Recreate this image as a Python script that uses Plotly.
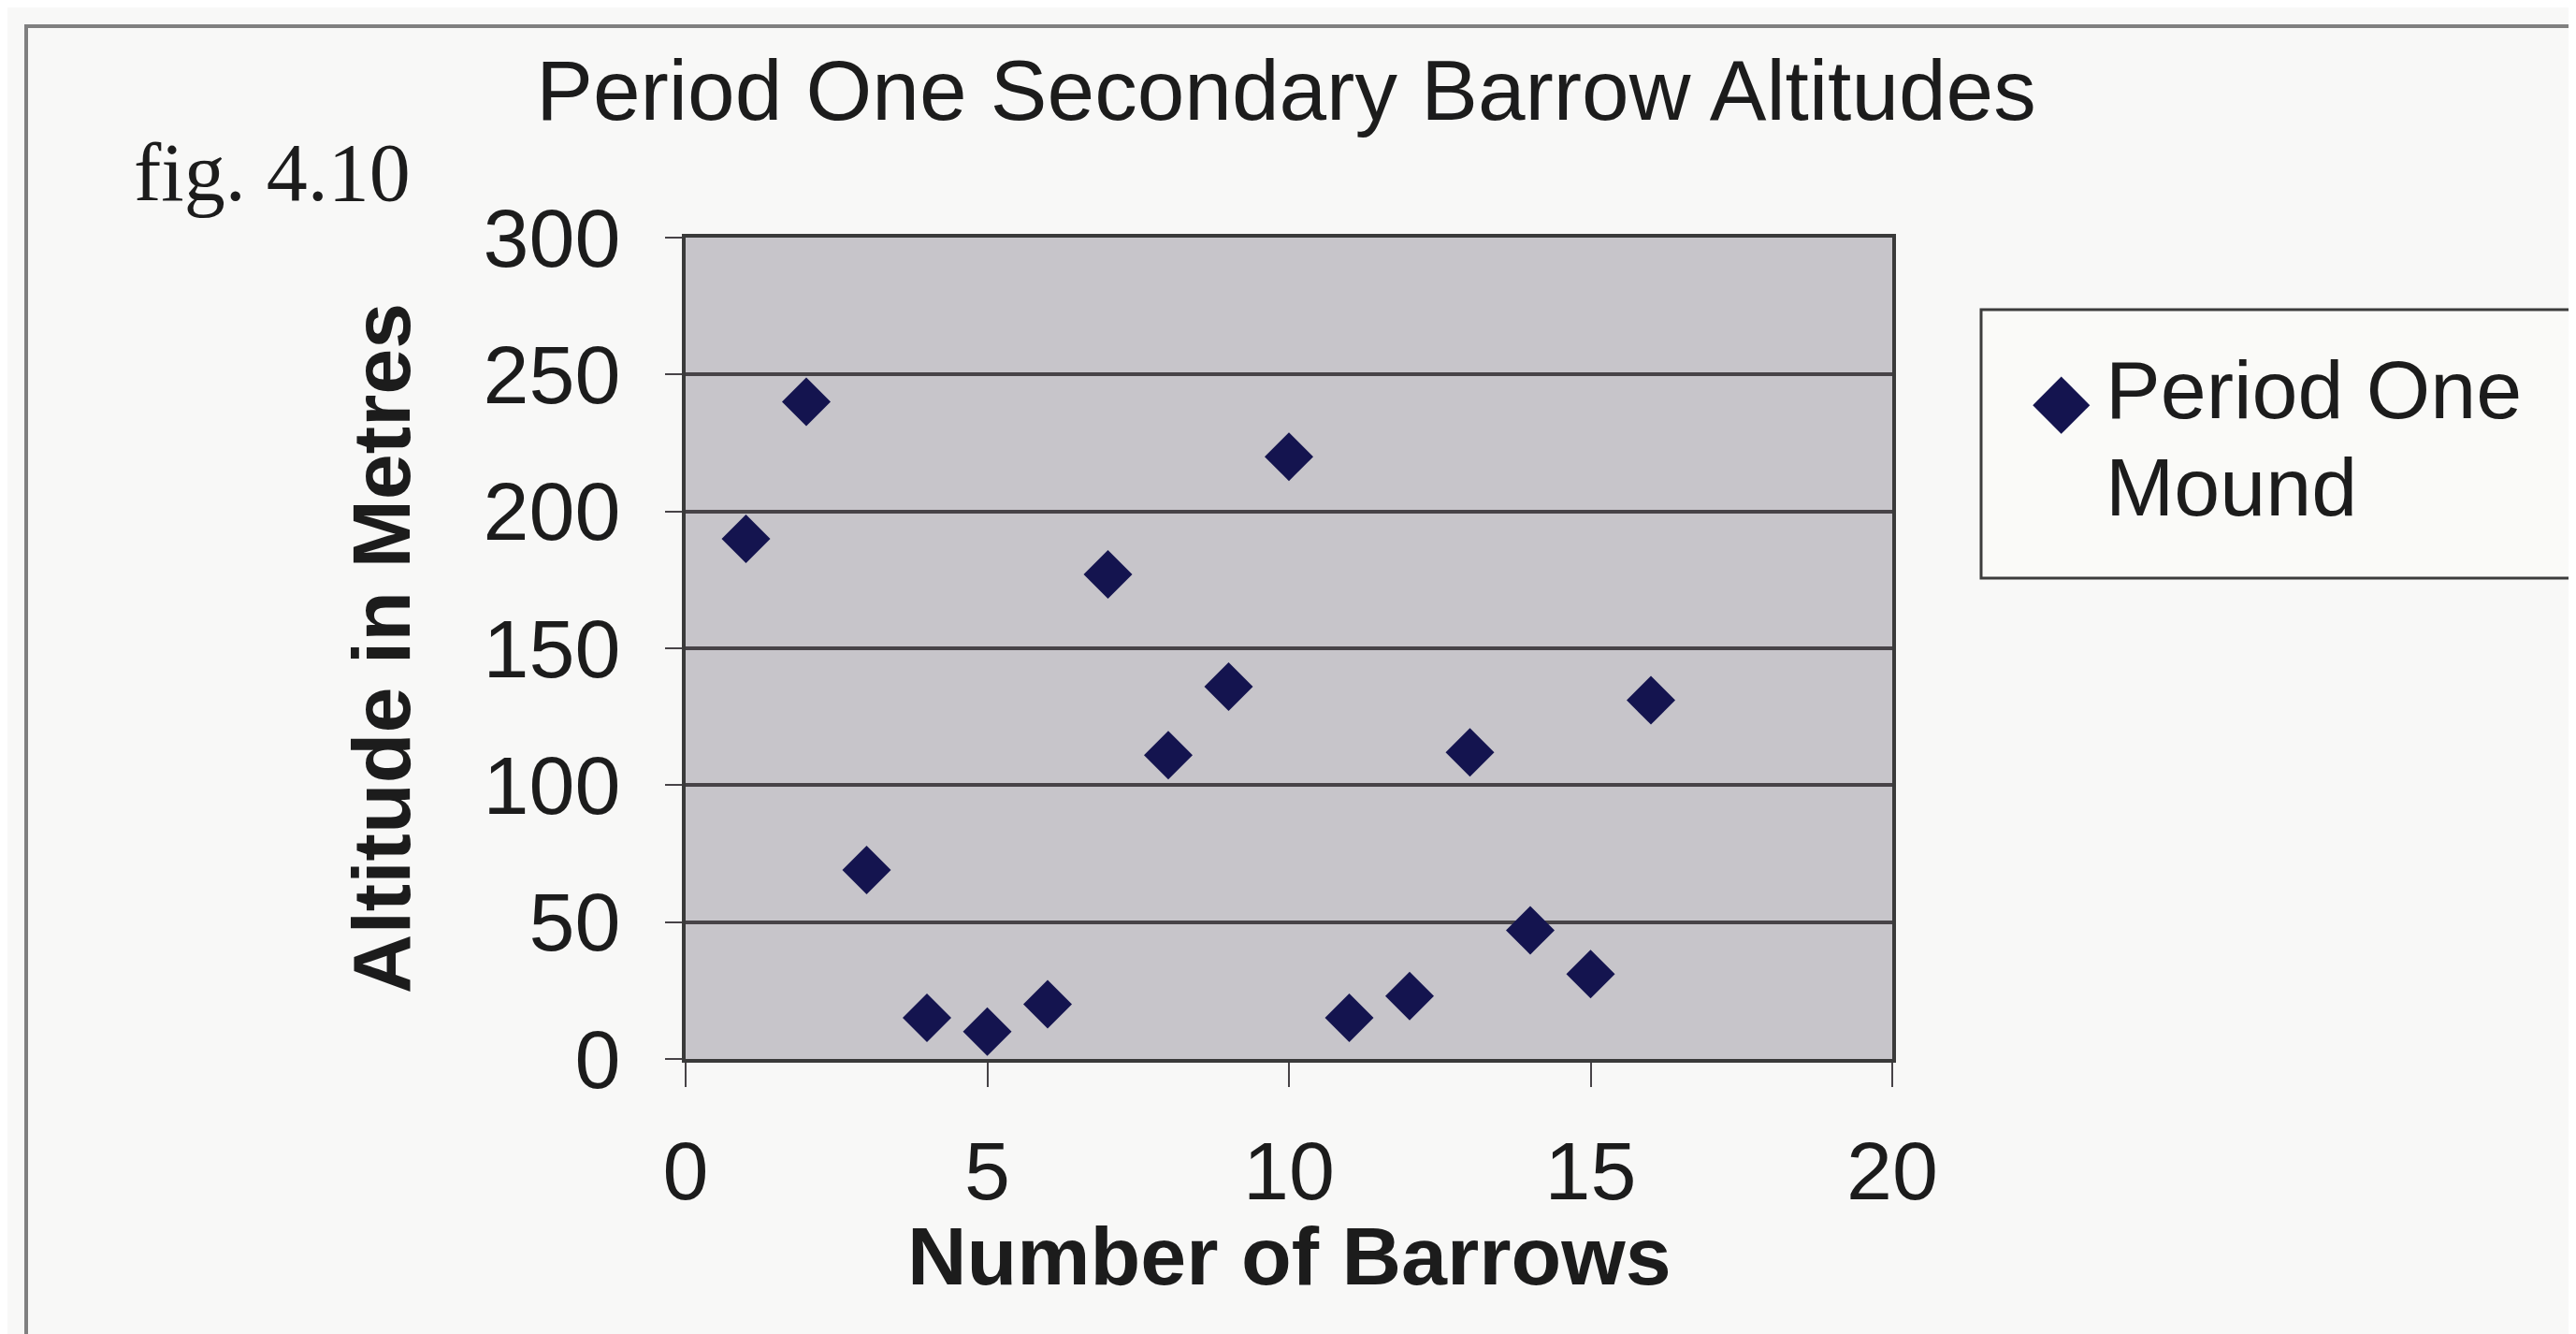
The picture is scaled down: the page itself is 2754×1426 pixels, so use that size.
import plotly.graph_objects as go

# ---- data ----
barrow_number = [1, 2, 3, 4, 5, 6, 7, 8, 9, 10, 11, 12, 13, 14, 15, 16]
altitude_m = [190, 240, 69, 15, 10, 20, 177, 111, 136, 220, 15, 23, 112, 47, 31, 131]
x_ticks = [0, 5, 10, 15, 20]
y_ticks = [0, 50, 100, 150, 200, 250, 300]
series_lines = ["Period One", "Mound"]
chart_title = "Period One Secondary Barrow Altitudes"
x_title = "Number of Barrows"
y_title = "Altitude in Metres"
fig_label = "fig. 4.10"

# ---- layout geometry (pixels) ----
W, H = 2754, 1426
L, R, T, B = 725, 2015, 246, 1124
PW, PH = R - L, B - T


def px(x):
    return (x - L) / PW


def py(y):
    return (B - y) / PH


FONT = "Liberation Sans, Arial, sans-serif"
TXT = "#1c1c1c"
GRID = "#474347"
NAVY = "#14144f"
FS = 88

fig = go.Figure()
fig.add_trace(go.Scatter(
    x=barrow_number, y=altitude_m, mode="markers",
    name=" ".join(series_lines), showlegend=False,
    marker=dict(symbol="diamond", size=40, color=NAVY, line=dict(width=0)),
))

fig.update_layout(
    width=W, height=H,
    margin=dict(l=L, r=W - R, t=T, b=H - B, pad=0),
    paper_bgcolor="#f8f8f7",
    plot_bgcolor="#c7c5ca",
    font=dict(family=FONT, size=FS, color=TXT),
    title=dict(text=chart_title, x=1367 / W, xref="container",
               xanchor="center", y=1 - 88 / H, yanchor="middle", yref="container",
               font=dict(size=FS + 3, color=TXT)),
    showlegend=False,
    xaxis=dict(range=[0, 20], tickvals=x_ticks, ticks="outside", ticklen=26,
               tickwidth=2, tickcolor=GRID, showgrid=False, zeroline=False,
               showline=True, linecolor="#3a3a3a", linewidth=4, mirror=True,
               ticklabelstandoff=14),
    yaxis=dict(range=[0, 300], tickvals=y_ticks, ticks="outside", ticklen=18,
               tickwidth=2, tickcolor=GRID, showgrid=True, gridcolor=GRID,
               gridwidth=4, zeroline=False, showline=True, linecolor="#3a3a3a",
               linewidth=4, mirror=True, ticklabelstandoff=30,
               title=dict(text="<b>" + y_title + "</b>", standoff=50,
                          font=dict(size=FS, color=TXT))),
)

# x axis title
fig.add_annotation(text="<b>" + x_title + "</b>", xref="paper", yref="paper",
                   x=0.5, y=py(1334), xanchor="center", yanchor="middle",
                   showarrow=False, borderpad=0, font=dict(size=FS, color=TXT))

# legend box
fig.add_shape(type="rect", xref="paper", yref="paper",
              x0=px(2110), x1=px(2742), y0=py(610), y1=py(323),
              line=dict(color="#3c3c3c", width=3), fillcolor="#fafaf8", layer="below")

# legend symbol + text
fig.add_annotation(text="◆", xref="paper", yref="paper",
                   x=px(2196), y=py(418), xanchor="center", yanchor="middle",
                   showarrow=False,
                   font=dict(family="DejaVu Sans, sans-serif", size=80, color=NAVY))
for i, line in enumerate(series_lines):
    fig.add_annotation(text=line, xref="paper", yref="paper",
                       x=px(2241), y=py(408 + 104 * i), xanchor="left", yanchor="middle",
                       showarrow=False, font=dict(size=FS, color=TXT))

# outer chart border
fig.add_shape(type="rect", xref="paper", yref="paper",
              x0=px(20), x1=px(2790), y0=py(1423), y1=py(20),
              line=dict(color="#808080", width=4), fillcolor="rgba(0,0,0,0)", layer="below")

fig.add_annotation(text=fig_label, xref="paper", yref="paper",
                   x=px(133), y=py(177), xanchor="left", yanchor="middle",
                   showarrow=False,
                   font=dict(family="Liberation Serif, Times New Roman, serif",
                             size=88, color=TXT))

fig.write_html("out.html")
